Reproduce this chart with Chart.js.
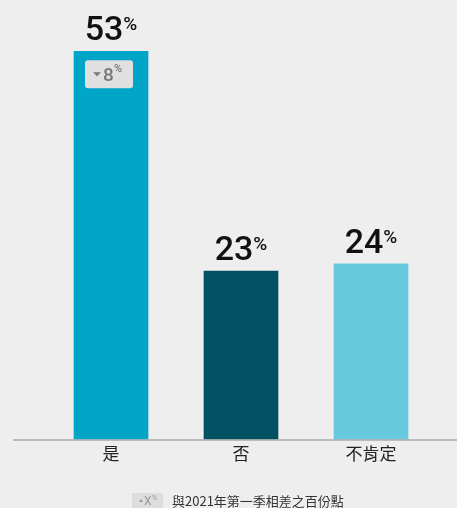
<!DOCTYPE html>
<html>
<head>
<meta charset="utf-8">
<script src="https://cdn.jsdelivr.net/npm/chart.js@4.4.1/dist/chart.umd.min.js"></script>
<style>
  html, body { margin: 0; padding: 0; background: #eeeeee; }
  #wrap { width: 457px; height: 508px; position: relative; }
</style>
</head>
<body>
<div id="wrap"><canvas id="bars"></canvas></div>
<script>
// data
const categories = ["是", "否", "不肯定"];
const shares = [53, 23, 24];
const changes = [-8, null, null]; // change vs 2021 Q1, only first bar shows one
const barColors = ["#00a5c8", "#005263", "#66c9de"];
const legendText = "與2021年第一季相差之百份點";

const numFont = "Roboto, 'Noto Sans', sans-serif";

// value labels, change badge, base line and legend key
const labelsPlugin = {
  id: "labels",
  afterDatasetsDraw(chart) {
    const ctx = chart.ctx;
    const meta = chart.getDatasetMeta(0);
    const area = chart.chartArea;

    // base line, wider than the plot area
    ctx.save();
    ctx.strokeStyle = "#aaaaaa";
    ctx.lineWidth = 1.5;
    ctx.beginPath();
    ctx.moveTo(13, area.bottom + 0.5);
    ctx.lineTo(chart.width, area.bottom + 0.5);
    ctx.stroke();

    meta.data.forEach((bar, i) => {
      const big = String(shares[i]);
      ctx.font = "500 34px " + numFont;
      const w1 = ctx.measureText(big).width;
      ctx.font = "500 19px " + numFont;
      const w2 = ctx.measureText("%").width;
      const x0 = bar.x - (w1 + w2) / 2;
      const base = bar.y - 11;
      ctx.fillStyle = "#111111";
      ctx.textBaseline = "alphabetic";
      ctx.textAlign = "left";
      ctx.font = "500 34px " + numFont;
      ctx.fillText(big, x0, base);
      ctx.font = "500 19px " + numFont;
      ctx.fillText("%", x0 + w1, base - 10);

      if (changes[i] != null) {
        const bx = bar.x - 26, by = bar.y + 9, bw = 48, bh = 28;
        ctx.fillStyle = "#e0e0e0";
        ctx.beginPath();
        ctx.roundRect(bx, by, bw, bh, 3);
        ctx.fill();
        ctx.fillStyle = "#777777";
        // down triangle
        ctx.beginPath();
        ctx.moveTo(bx + 8, by + 12);
        ctx.lineTo(bx + 16, by + 12);
        ctx.lineTo(bx + 12, by + 16);
        ctx.closePath();
        ctx.fill();
        ctx.font = "500 19px " + numFont;
        ctx.fillText(String(Math.abs(changes[i])), bx + 18, by + 21);
        ctx.font = "500 11px " + numFont;
        ctx.fillText("%", bx + 29, by + 12);
      }
    });

    // legend key at the bottom
    const lx = 132, ly = 493;
    ctx.fillStyle = "#dddddd";
    ctx.fillRect(lx, ly, 31, 18);
    ctx.fillStyle = "#999999";
    ctx.beginPath();
    ctx.moveTo(lx + 7, ly + 9);
    ctx.lineTo(lx + 11, ly + 9);
    ctx.lineTo(lx + 9, ly + 6);
    ctx.closePath();
    ctx.fill();
    ctx.font = "12px " + numFont;
    ctx.fillText("X", lx + 12, ly + 12);
    ctx.font = "7px " + numFont;
    ctx.fillText("%", lx + 20, ly + 7);
    ctx.fillStyle = "#333333";
    ctx.font = "13px 'Noto Sans CJK TC', sans-serif";
    ctx.fillText(legendText, 172, ly + 13);
    ctx.restore();
  }
};

new Chart(document.getElementById("bars"), {
  type: "bar",
  data: {
    labels: categories,
    datasets: [{
      data: shares,
      backgroundColor: barColors,
      barThickness: 74,
      borderWidth: 0
    }]
  },
  options: {
    responsive: true,
    maintainAspectRatio: false,
    animation: false,
    events: [],
    layout: { padding: { left: 46, right: 21, top: 0, bottom: 40 } },
    plugins: { legend: { display: false }, tooltip: { enabled: false } },
    scales: {
      x: {
        grid: { display: false, drawTicks: false, tickLength: 0 },
        border: { display: false },
        ticks: {
          color: "#222222",
          font: { family: "'Noto Sans CJK TC', sans-serif", size: 17 },
          padding: 4
        }
      },
      y: { display: false, min: 0, max: 60 }
    }
  },
  plugins: [labelsPlugin]
});
</script>
</body>
</html>
